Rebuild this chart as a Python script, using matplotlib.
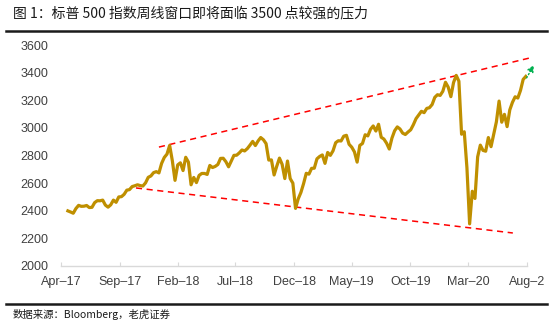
import numpy as np
import pandas as pd
import matplotlib
matplotlib.use("Agg")
import matplotlib.pyplot as plt
from matplotlib.lines import Line2D

plt.rcParams["font.family"] = ["Liberation Sans", "Noto Sans CJK SC", "DejaVu Sans"]

TITLE = "图 1：标普 500 指数周线窗口即将面临 3500 点较强的压力"
SOURCE = "数据来源：Bloomberg，老虎证券"

# weekly closes of the S&P 500, 2017-05-05 .. 2020-08-14
START_DATE = "2017-05-05"
SPX_2017 = [2399, 2391, 2382, 2416, 2439, 2432, 2433, 2438, 2423, 2425, 2459, 2473,
            2472, 2477, 2441, 2426, 2443, 2477, 2461, 2500, 2502, 2519, 2549, 2553,
            2575, 2581, 2588, 2582, 2579, 2602, 2642, 2652, 2676, 2683, 2674]
SPX_2018 = [2743, 2786, 2810, 2873, 2762, 2620, 2732, 2747, 2691, 2787, 2752, 2588,
            2641, 2604, 2656, 2670, 2670, 2663, 2728, 2713, 2721, 2735, 2779, 2780,
            2755, 2718, 2760, 2801, 2802, 2819, 2840, 2833, 2850, 2875, 2902, 2872,
            2905, 2930, 2914, 2886, 2767, 2768, 2659, 2723, 2781, 2736, 2633, 2760,
            2633, 2600, 2417, 2486]
SPX_2019 = [2532, 2596, 2671, 2665, 2707, 2708, 2776, 2793, 2804, 2743, 2822, 2801,
            2834, 2893, 2907, 2905, 2940, 2946, 2881, 2860, 2826, 2752, 2873, 2887,
            2950, 2942, 2990, 3014, 2977, 3026, 2932, 2919, 2889, 2847, 2926, 2979,
            3007, 2992, 2962, 2952, 2970, 2986, 3023, 3067, 3093, 3120, 3110, 3141,
            3146, 3169, 3221, 3240]
SPX_2020 = [3235, 3265, 3330, 3295, 3226, 3328, 3380, 3338, 2954, 2972, 2711, 2305,
            2541, 2489, 2790, 2875, 2837, 2831, 2930, 2864, 2955, 3044, 3194, 3041,
            3098, 3009, 3130, 3185, 3225, 3216, 3271, 3351, 3373]

# trend lines
UPPER_DATES = ["2017-12-29", "2020-08-30"]
UPPER_VALS = [2861, 3510]
LOWER_DATES = ["2017-10-30", "2020-07-11"]
LOWER_VALS = [2565, 2239]
ARROW_FROM = ("2020-08-16", 3362)
ARROW_TO = ("2020-09-04", 3455)

TICK_DATES = ["2017-04-17", "2017-09-17", "2018-02-17", "2018-07-17", "2018-12-17",
              "2019-05-17", "2019-10-17", "2020-03-17", "2020-08-17"]
# the last label is cut off by the chart frame in the original
TICK_LABELS = ["Apr–17", "Sep–17", "Feb–18", "Jul–18", "Dec–18",
               "May–19", "Oct–19", "Mar–20", "Aug–2"]
Y_TICKS = [2000, 2200, 2400, 2600, 2800, 3000, 3200, 3400, 3600]

values = SPX_2017 + SPX_2018 + SPX_2019 + SPX_2020
dates = pd.date_range(START_DATE, periods=len(values), freq="W-FRI")

fig = plt.figure(figsize=(5.58, 3.30), dpi=100)
ax = fig.add_axes([61 / 558, 64 / 330, 466 / 558, 221 / 330])

ax.plot(dates, values, color="#BF8F00", lw=2.3, solid_joinstyle="round", zorder=3)
ax.plot(pd.to_datetime(UPPER_DATES), UPPER_VALS, color="#FF0000", lw=1.1,
        dashes=(4, 3), clip_on=False, zorder=2)
ax.plot(pd.to_datetime(LOWER_DATES), LOWER_VALS, color="#FF0000", lw=1.1,
        dashes=(4, 3), clip_on=False, zorder=2)
ax.annotate("", xy=(pd.Timestamp(ARROW_TO[0]), ARROW_TO[1]),
            xytext=(pd.Timestamp(ARROW_FROM[0]), ARROW_FROM[1]),
            annotation_clip=False,
            arrowprops=dict(arrowstyle="-|>", color="#00B050", lw=1.0, ls=":",
                            mutation_scale=10, shrinkA=0, shrinkB=0))

ax.set_xlim(pd.Timestamp(TICK_DATES[0]), pd.Timestamp(TICK_DATES[-1]))
ax.set_ylim(Y_TICKS[0], Y_TICKS[-1])
ax.set_xticks(pd.to_datetime(TICK_DATES))
ax.set_xticklabels(TICK_LABELS)
ax.set_yticks(Y_TICKS)

for s in ["top", "right", "left"]:
    ax.spines[s].set_visible(False)
ax.spines["bottom"].set_color("#D9D9D9")
ax.spines["bottom"].set_linewidth(1.0)
ax.tick_params(axis="x", direction="in", length=3, color="#D9D9D9", pad=7,
               labelsize=9, labelcolor="#404040")
ax.tick_params(axis="y", length=0, pad=9, labelsize=9, labelcolor="#404040")

fig.text(13 / 558, 1 - 13 / 330, TITLE, fontsize=10, color="#1A1A1A", va="center",
         family=["Noto Sans CJK SC", "DejaVu Sans"])
fig.text(13 / 558, 1 - 315 / 330, SOURCE, fontsize=7.5, color="#1A1A1A", va="center",
         family=["Noto Sans CJK SC", "DejaVu Sans"])
fig.add_artist(Line2D([6 / 558, 547 / 558], [1 - 31 / 330] * 2, color="#1A1A1A", lw=1.8,
                      transform=fig.transFigure))
fig.add_artist(Line2D([6 / 558, 547 / 558], [1 - 304 / 330] * 2, color="#1A1A1A", lw=1.8,
                      transform=fig.transFigure))

fig.savefig("out.png", dpi=100)
